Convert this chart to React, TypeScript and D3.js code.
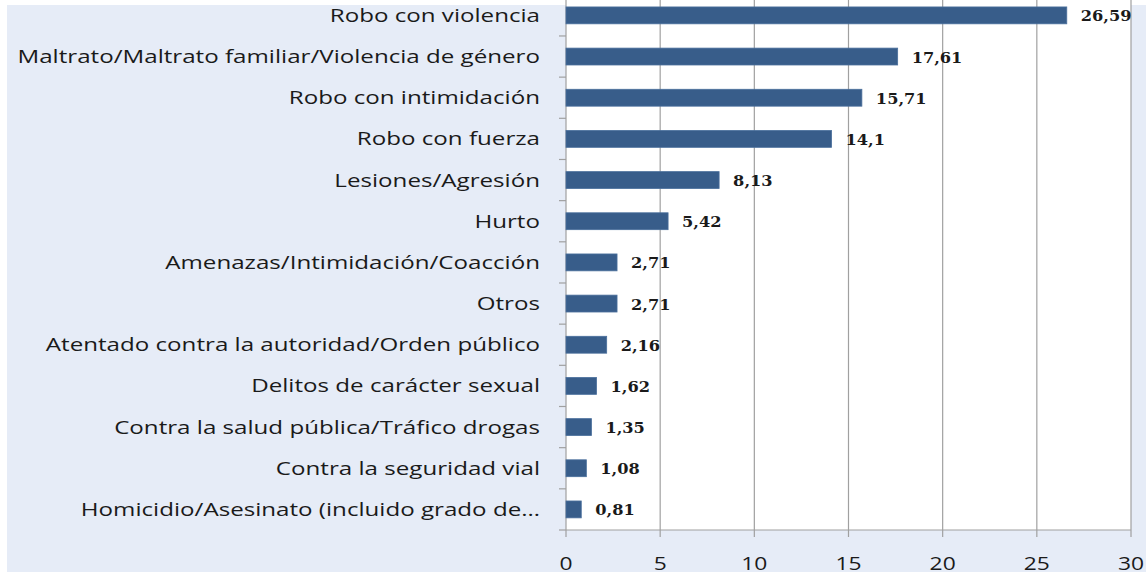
import { useEffect, useRef } from 'react';
import * as d3 from 'd3';

const categories = [
  'Robo con violencia',
  'Maltrato/Maltrato familiar/Violencia de género',
  'Robo con intimidación',
  'Robo con fuerza',
  'Lesiones/Agresión',
  'Hurto',
  'Amenazas/Intimidación/Coacción',
  'Otros',
  'Atentado contra la autoridad/Orden público',
  'Delitos de carácter sexual',
  'Contra la salud pública/Tráfico drogas',
  'Contra la seguridad vial',
  'Homicidio/Asesinato (incluido grado de…',
];
const values = [26.59, 17.61, 15.71, 14.1, 8.13, 5.42, 2.71, 2.71, 2.16, 1.62, 1.35, 1.08, 0.81];
const valueLabels = ['26,59', '17,61', '15,71', '14,1', '8,13', '5,42', '2,71', '2,71', '2,16', '1,62', '1,35', '1,08', '0,81'];
const xTicks = [0, 5, 10, 15, 20, 25, 30];

const W = 1146;
const H = 578;

// the reference text is wider than the fonts we have: stretch it
function stretch(sel: d3.Selection<SVGTextElement, any, any, any>, f: number) {
  sel.each(function () {
    const len = this.getComputedTextLength();
    d3.select(this).attr('textLength', len * f).attr('lengthAdjust', 'spacingAndGlyphs');
  });
}

function App() {
  const ref = useRef<SVGSVGElement>(null);

  useEffect(() => {
    const svg = d3.select(ref.current);
    svg.selectAll('*').remove();

    const left = 566, right = 1131, top = -5.2, bottom = 530;

    svg.append('rect')
      .attr('x', 7).attr('y', 5)
      .attr('width', W - 7).attr('height', 567)
      .attr('fill', '#e6ecf7');

    const x = d3.scaleLinear().domain([0, 30]).range([left, right]);
    const y = d3.scaleBand<string>().domain(categories).range([top, bottom]).paddingInner(0.59).paddingOuter(0.295);

    svg.append('rect')
      .attr('x', left).attr('y', 0)
      .attr('width', right - left).attr('height', bottom)
      .attr('fill', '#ffffff');

    // vertical gridlines
    svg.append('g')
      .selectAll('line')
      .data(xTicks.slice(1))
      .join('line')
      .attr('x1', d => x(d)).attr('x2', d => x(d))
      .attr('y1', 0).attr('y2', bottom + 7)
      .attr('stroke', '#a0a0a0').attr('stroke-width', 1.2);

    // axes
    svg.append('line')
      .attr('x1', left).attr('x2', right)
      .attr('y1', bottom).attr('y2', bottom)
      .attr('stroke', '#a0a0a0').attr('stroke-width', 1.2);
    svg.append('line')
      .attr('x1', left).attr('x2', left)
      .attr('y1', 0).attr('y2', bottom + 7)
      .attr('stroke', '#a0a0a0').attr('stroke-width', 1.2);

    // category tick marks
    const step = y.step();
    svg.append('g')
      .selectAll('line')
      .data(categories)
      .join('line')
      .attr('x1', left - 7).attr('x2', left)
      .attr('y1', d => (y(d) as number) - step * 0.295 + step)
      .attr('y2', d => (y(d) as number) - step * 0.295 + step)
      .attr('stroke', '#a0a0a0').attr('stroke-width', 1.2);

    const tickText = svg.append('g')
      .selectAll<SVGTextElement, number>('text')
      .data(xTicks)
      .join('text')
      .attr('x', d => x(d)).attr('y', 570)
      .attr('text-anchor', 'middle')
      .attr('font-family', 'Open Sans')
      .attr('font-size', 19)
      .attr('fill', '#1a1a1a')
      .text(d => d);
    stretch(tickText, 1.2);

    // bars
    svg.append('g')
      .selectAll('rect')
      .data(values)
      .join('rect')
      .attr('x', x(0))
      .attr('y', (d, i) => y(categories[i]) as number)
      .attr('width', d => x(d) - x(0))
      .attr('height', y.bandwidth())
      .attr('fill', '#385d8a')
      .attr('stroke', '#4a6f9c').attr('stroke-width', 0.8);

    const valText = svg.append('g')
      .selectAll<SVGTextElement, number>('text')
      .data(values)
      .join('text')
      .attr('x', d => x(d) + 14)
      .attr('y', (d, i) => (y(categories[i]) as number) + y.bandwidth() / 2 + 6)
      .attr('font-family', 'DejaVu Serif')
      .attr('font-weight', 'bold')
      .attr('font-size', 15)
      .attr('fill', '#1a1a1a')
      .text((d, i) => valueLabels[i]);
    stretch(valText, 1.08);

    const catText = svg.append('g')
      .selectAll<SVGTextElement, string>('text')
      .data(categories)
      .join('text')
      .attr('x', 540)
      .attr('y', d => (y(d) as number) + y.bandwidth() / 2 + 6.5)
      .attr('text-anchor', 'end')
      .attr('font-family', 'Open Sans')
      .attr('font-size', 19)
      .attr('fill', '#1a1a1a')
      .text(d => d);
    stretch(catText, 1.27);
  }, []);

  return (
    <svg ref={ref} width={W} height={H} style={{ position: 'absolute', left: 0, top: 0, background: '#ffffff' }} />
  );
}

export default App;
